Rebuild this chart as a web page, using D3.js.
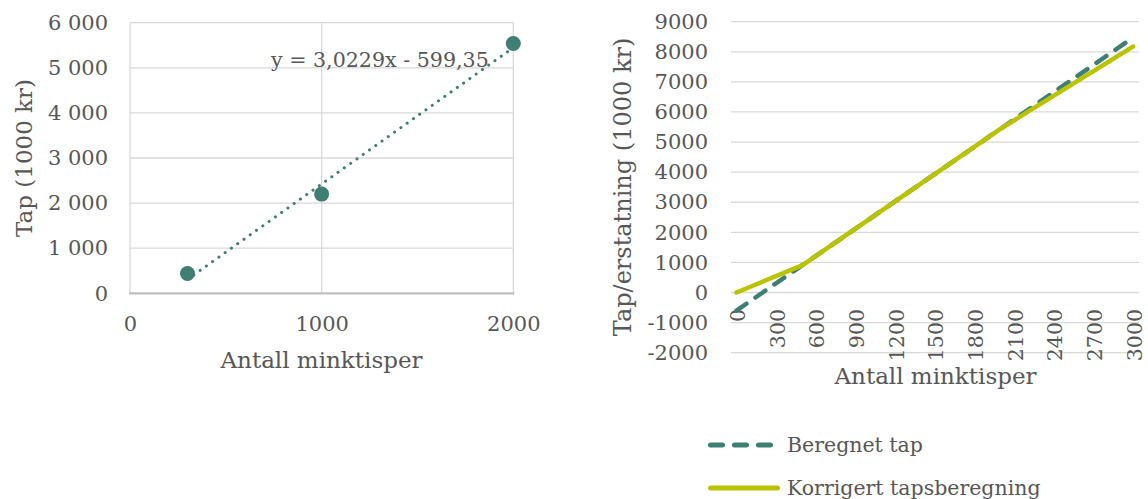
<!DOCTYPE html>
<html>
<head>
<meta charset="utf-8">
<script src="https://cdn.jsdelivr.net/npm/d3@7"></script>
<style>
  html, body { margin: 0; padding: 0; background: #ffffff; }
  svg { display: block; }
  text { font-family: "DejaVu Serif", "Liberation Serif", serif; fill: #575757; }
</style>
</head>
<body>
<svg id="chart" width="1148" height="499"></svg>
<script>
// ---- Left panel: observed losses and linear trend ----
const observedMinks = [300, 1000, 2000];
const observedLoss = [440, 2200, 5540];
const trendSlope = 3.0229;
const trendIntercept = -599.35;
const leftYTicks = [0, 1000, 2000, 3000, 4000, 5000, 6000];
const leftXTicks = [0, 1000, 2000];

// ---- Right panel: calculated vs corrected loss ----
const minkCategories = [0, 300, 600, 900, 1200, 1500, 1800, 2100, 2400, 2700, 3000];
const beregnetTap = [-599, 308, 1214, 2121, 3028, 3935, 4842, 5749, 6656, 7563, 8469];
const korrigertMinks = [0, 500, 2000, 3000];
const korrigertTap = [0, 912, 5446, 8174];
const rightYTicks = [-2000, -1000, 0, 1000, 2000, 3000, 4000, 5000, 6000, 7000, 8000, 9000];

const seriesNames = ["Beregnet tap", "Korrigert tapsberegning"];

const green = "#3f7e72";
const lime = "#b9c300";
const grid = "#d9d9d9";

const svg = d3.select("#chart");

const nb = d3.formatLocale({ decimal: ",", thousands: "\u2009", grouping: [3], currency: ["", ""], minus: "-" });
const fmtSpaced = v => nb.format(",d")(v).replace("\u2009", " ");
const fmtPlain = nb.format("d");
const fmtCoef = nb.format(".4f");
const fmtCoef2 = nb.format(".2f");

// ================= Left panel =================
const xL = d3.scaleLinear().domain([0, 2000]).range([130, 513.3]);
const yL = d3.scaleLinear().domain([0, 6000]).range([293.3, 22.7]);

const gL = svg.append("g");

// horizontal grid
gL.append("g").selectAll("line").data(leftYTicks.filter(d => d > 0)).join("line")
  .attr("x1", xL(0)).attr("x2", xL(2000))
  .attr("y1", d => yL(d)).attr("y2", d => yL(d))
  .attr("stroke", grid).attr("stroke-width", 1.3);
// vertical grid
gL.append("g").selectAll("line").data(leftXTicks).join("line")
  .attr("x1", d => xL(d)).attr("x2", d => xL(d))
  .attr("y1", yL(0)).attr("y2", yL(6000))
  .attr("stroke", grid).attr("stroke-width", 1.3);
// horizontal axis line
gL.append("line")
  .attr("x1", xL(0) - 1).attr("x2", xL(2000) + 1)
  .attr("y1", yL(0)).attr("y2", yL(0))
  .attr("stroke", "#bfbfbf").attr("stroke-width", 2.2);

// y axis labels
const axL = gL.append("g").attr("transform", `translate(${xL(0)},0)`)
  .call(d3.axisLeft(yL).tickValues(leftYTicks).tickSize(0).tickPadding(22).tickFormat(fmtSpaced));
axL.select(".domain").remove();
axL.selectAll("text").style("font-size", "21px").style("font-family", null);

// x axis labels
const axLx = gL.append("g").attr("transform", `translate(0,${yL(0)})`)
  .call(d3.axisBottom(xL).tickValues(leftXTicks).tickSize(0).tickFormat(fmtPlain));
axLx.select(".domain").remove();
axLx.selectAll("text").attr("y", 30).attr("dy", "0.35em").style("font-size", "21px").style("font-family", null);

// trend line (dotted), drawn from the stated equation
const trendPts = [observedMinks[0], observedMinks[observedMinks.length - 1]]
  .map(x => [x, trendSlope * x + trendIntercept]);
gL.append("path")
  .attr("d", d3.line().x(d => xL(d[0])).y(d => yL(d[1]))(trendPts))
  .attr("fill", "none").attr("stroke", green).attr("stroke-width", 3)
  .attr("stroke-linecap", "round").attr("stroke-dasharray", "0.1 7.6");

// observed points
gL.append("g").selectAll("circle").data(observedMinks).join("circle")
  .attr("cx", d => xL(d)).attr("cy", (d, i) => yL(observedLoss[i]))
  .attr("r", 7.5).attr("fill", green);

// equation label
gL.append("text")
  .attr("x", 271).attr("y", 66.5)
  .style("font-size", "20.6px")
  .text(`y = ${fmtCoef(trendSlope)}x - ${fmtCoef2(Math.abs(trendIntercept))}`);

// axis titles
gL.append("text")
  .attr("transform", `translate(32,158) rotate(-90)`)
  .attr("text-anchor", "middle")
  .style("font-size", "23px")
  .text("Tap (1000 kr)");
gL.append("text")
  .attr("x", 321.5).attr("y", 368)
  .attr("text-anchor", "middle")
  .style("font-size", "23px")
  .text("Antall minktisper");

// ================= Right panel =================
const xR = d3.scaleLinear().domain([0, 3000]).range([736.5, 1133]);
const yR = d3.scaleLinear().domain([-2000, 9000]).range([352.7, 21.7]);

const gR = svg.append("g");

gR.append("g").selectAll("line").data(rightYTicks).join("line")
  .attr("x1", 731).attr("x2", 1139)
  .attr("y1", d => yR(d)).attr("y2", d => yR(d))
  .attr("stroke", grid).attr("stroke-width", 1.3);

const axR = gR.append("g").attr("transform", `translate(731,0)`)
  .call(d3.axisLeft(yR).tickValues(rightYTicks).tickSize(0).tickPadding(23).tickFormat(fmtPlain));
axR.select(".domain").remove();
axR.selectAll("text").style("font-size", "21px").style("font-family", null);

// rotated category labels
gR.append("g").selectAll("text").data(minkCategories).join("text")
  .attr("transform", d => `translate(${xR(d) + 1.5},309) rotate(-90)`)
  .attr("text-anchor", "end").attr("dy", "0.35em")
  .style("font-size", "20.5px")
  .text(d => fmtPlain(d));

const lineR = d3.line().x(d => xR(d[0])).y(d => yR(d[1]));

// calculated loss (dashed)
gR.append("path")
  .attr("d", lineR(minkCategories.map((m, i) => [m, beregnetTap[i]])))
  .attr("fill", "none").attr("stroke", green).attr("stroke-width", 4.5)
  .attr("stroke-linecap", "round").attr("stroke-dasharray", "12 11");

// corrected loss (solid)
gR.append("path")
  .attr("d", lineR(korrigertMinks.map((m, i) => [m, korrigertTap[i]])))
  .attr("fill", "none").attr("stroke", lime).attr("stroke-width", 4.5)
  .attr("stroke-linecap", "round").attr("stroke-linejoin", "round");

// axis titles
gR.append("text")
  .attr("transform", `translate(631,187) rotate(-90)`)
  .attr("text-anchor", "middle")
  .style("font-size", "24px")
  .text("Tap/erstatning (1000 kr)");
gR.append("text")
  .attr("x", 935.5).attr("y", 383.5)
  .attr("text-anchor", "middle")
  .style("font-size", "23px")
  .text("Antall minktisper");

// legend
const legend = svg.append("g");
const legendRows = [
  { name: seriesNames[0], color: green, dash: "12 12", y: 445, x2: 770.5 },
  { name: seriesNames[1], color: lime, dash: null, y: 488, x2: 777.5 }
];
legendRows.forEach(r => {
  legend.append("line")
    .attr("x1", 710.5).attr("x2", r.x2).attr("y1", r.y).attr("y2", r.y)
    .attr("stroke", r.color).attr("stroke-width", 5).attr("stroke-linecap", "round")
    .attr("stroke-dasharray", r.dash);
  legend.append("text")
    .attr("x", 787).attr("y", r.y).attr("dy", "0.35em")
    .style("font-size", "20.5px")
    .text(r.name);
});
</script>
</body>
</html>
